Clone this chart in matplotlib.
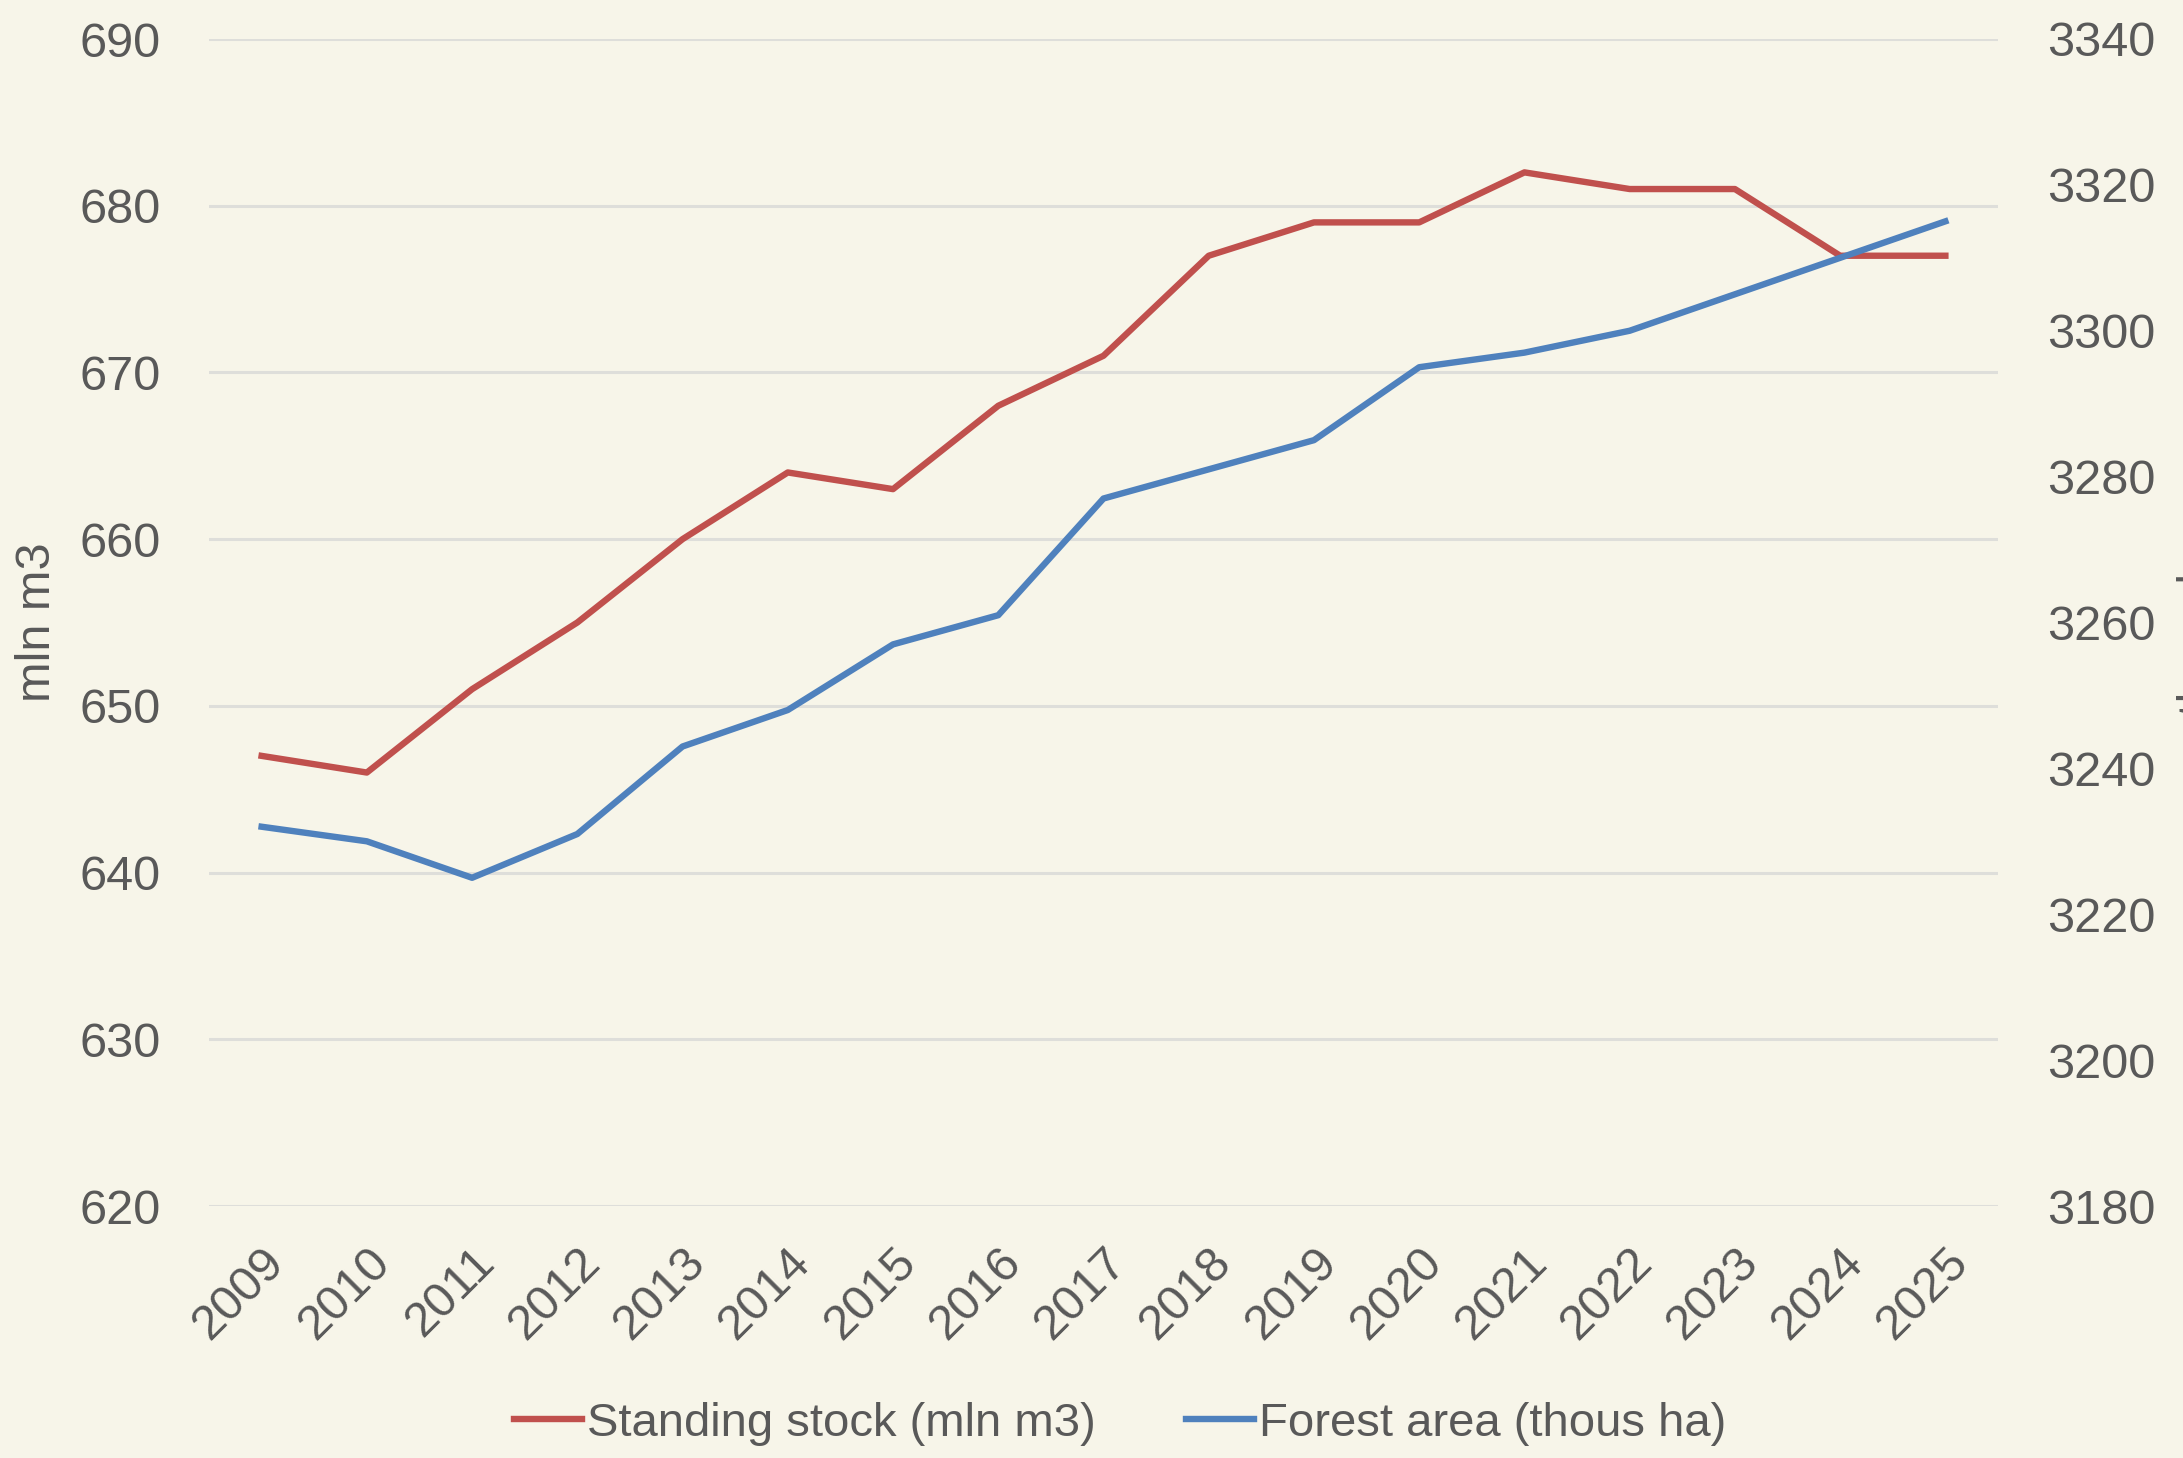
import matplotlib
matplotlib.use("Agg")
import matplotlib.pyplot as plt

# Dades llegides del gràfic
years = [str(y) for y in range(2009, 2026)]
standing_stock = [647, 646, 651, 655, 660, 664, 663, 668, 671, 677, 679, 679, 682, 681, 681, 677, 677]
forest_area = [3232, 3230, 3225, 3231, 3243, 3248, 3257, 3261, 3277, 3281, 3285, 3295, 3297, 3300, 3305, 3310, 3315]

left_ticks = list(range(620, 691, 10))
right_ticks = list(range(3180, 3341, 20))

BG = "#F7F5E9"
TXT = "#595959"
RED = "#C0504D"
BLUE = "#4F81BD"
FS = 35

plt.rcParams["font.family"] = ["Liberation Sans", "DejaVu Sans"]

fig = plt.figure(figsize=(21.83, 14.58), dpi=100, facecolor=BG)
ax = fig.add_axes([209 / 2183, 1 - 1206 / 1458, (1998 - 209) / 2183, (1206 - 39) / 1458])
ax.set_facecolor(BG)

x = list(range(len(years)))
l1, = ax.plot(x, standing_stock, color=RED, lw=4.6, label="Standing stock (mln m3)", zorder=3)
ax.set_ylim(620, 690)
ax.set_yticks(left_ticks)
ax.set_xlim(-0.5, len(years) - 0.5)
ax.set_xticks(x)
ax.set_xticklabels(years, rotation=45, ha="right", rotation_mode="anchor")
ax.grid(axis="y", color="#DEDEDA", lw=2.2)
ax.set_axisbelow(True)
ax.set_ylabel("mln m3", fontsize=FS, color=TXT, labelpad=14)

ax2 = ax.twinx()
l2, = ax2.plot(x, forest_area, color=BLUE, lw=4.6, label="Forest area (thous ha)", zorder=3)
ax2.set_ylim(3180, 3340)
ax2.set_yticks(right_ticks)
ax2.set_ylabel("thous ha", fontsize=FS, color=TXT)
ax2.yaxis.set_label_coords((2177 - 209) / (1998 - 209), 0.5)

for a in (ax, ax2):
    for s in a.spines.values():
        s.set_visible(False)
    a.tick_params(length=0, labelsize=FS, labelcolor=TXT)
ax.tick_params(axis="y", pad=35)
ax.tick_params(axis="x", pad=24)
ax2.tick_params(axis="y", pad=35)

fig.legend(handles=[l1, l2], loc="center", bbox_to_anchor=(1120 / 2183, 1 - 1424 / 1458),
           ncol=2, frameon=False, fontsize=34, labelcolor=TXT,
           handlelength=1.45, handletextpad=0.1, columnspacing=1.9)

fig.savefig("out.png", dpi=100, facecolor=BG)
